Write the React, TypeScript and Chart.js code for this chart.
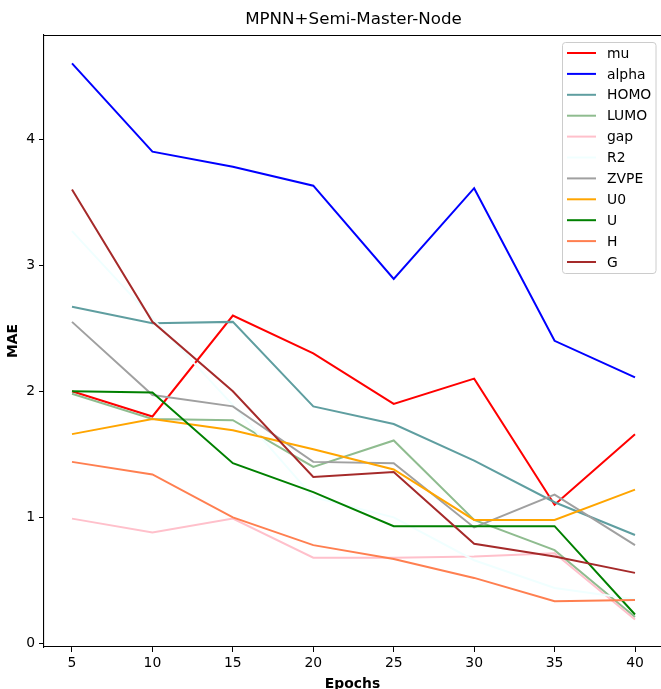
import React, { useEffect, useRef } from "react";
import { Chart, registerables } from "chart.js";

Chart.register(...registerables);

const epochs = [5, 10, 15, 20, 25, 30, 35, 40];
const seriesNames = ["mu", "alpha", "HOMO", "LUMO", "gap", "R2", "ZVPE", "U0", "U", "H", "G"];
const mu = [2.0, 1.8, 2.6, 2.3, 1.9, 2.1, 1.1, 1.66];
const alpha = [4.6, 3.9, 3.78, 3.63, 2.89, 3.61, 2.4, 2.11];
const HOMO = [2.67, 2.54, 2.55, 1.88, 1.74, 1.45, 1.12, 0.86];
const LUMO = [1.98, 1.78, 1.77, 1.4, 1.61, 0.98, 0.74, 0.21];
const gap = [0.99, 0.88, 0.99, 0.68, 0.68, 0.69, 0.715, 0.19];
const R2 = [3.27, 2.58, 1.89, 1.16, 1.0, 0.66, 0.44, 0.35];
const ZVPE = [2.55, 1.97, 1.88, 1.44, 1.43, 0.92, 1.18, 0.78];
const U0 = [1.66, 1.78, 1.69, 1.54, 1.38, 0.98, 0.98, 1.22];
const U = [2.0, 1.99, 1.43, 1.2, 0.93, 0.93, 0.93, 0.23];
const H = [1.44, 1.34, 1.0, 0.78, 0.67, 0.52, 0.335, 0.345];
const G = [3.6, 2.55, 2.0, 1.32, 1.36, 0.79, 0.69, 0.56];
const seriesValues = [mu, alpha, HOMO, LUMO, gap, R2, ZVPE, U0, U, H, G];
const seriesColors = [
  "#FF0000", "#0000FF", "#5F9EA0", "#8FBC8F", "#FFC0CB", "#F0FFFF",
  "#A0A0A0", "#FFA500", "#008000", "#FF7F50", "#A52A2A",
];
const xTicks = [5, 10, 15, 20, 25, 30, 35, 40];
const yTicks = [0, 1, 2, 3, 4];
const chartTitle = "MPNN+Semi-Master-Node";

const FONT = "'DejaVu Sans', sans-serif";

const framePlugin = {
  id: "framePlugin",
  afterDraw(chart: any) {
    const { ctx, chartArea } = chart;
    ctx.save();
    // top spine
    ctx.strokeStyle = "#000";
    ctx.lineWidth = 1.1;
    ctx.beginPath();
    ctx.moveTo(chartArea.left - 0.5, chartArea.top + 0.5);
    ctx.lineTo(chartArea.right + 2, chartArea.top + 0.5);
    ctx.stroke();
    // title
    ctx.fillStyle = "#000";
    ctx.font = `16.7px ${FONT}`;
    ctx.textAlign = "center";
    ctx.textBaseline = "middle";
    ctx.fillText(chartTitle, 353.5, 20);
    // legend
    const bx = 562.5, by = 42.5, bw = 93.5, bh = 231;
    const r = 3;
    ctx.beginPath();
    ctx.moveTo(bx + r, by);
    ctx.lineTo(bx + bw - r, by);
    ctx.arcTo(bx + bw, by, bx + bw, by + r, r);
    ctx.lineTo(bx + bw, by + bh - r);
    ctx.arcTo(bx + bw, by + bh, bx + bw - r, by + bh, r);
    ctx.lineTo(bx + r, by + bh);
    ctx.arcTo(bx, by + bh, bx, by + bh - r, r);
    ctx.lineTo(bx, by + r);
    ctx.arcTo(bx, by, bx + r, by, r);
    ctx.closePath();
    ctx.fillStyle = "rgba(255,255,255,0.8)";
    ctx.fill();
    ctx.strokeStyle = "#cccccc";
    ctx.lineWidth = 1;
    ctx.stroke();
    ctx.font = `13.9px ${FONT}`;
    ctx.textAlign = "left";
    chart.data.datasets.forEach((ds: any, i: number) => {
      const y = 53 + i * 20.9;
      ctx.strokeStyle = ds.borderColor;
      ctx.lineWidth = 2;
      ctx.beginPath();
      ctx.moveTo(567, y);
      ctx.lineTo(596, y);
      ctx.stroke();
      ctx.fillStyle = "#000";
      ctx.fillText(ds.label, 607, y + 1);
    });
    ctx.restore();
  },
};

export default function App() {
  const canvasRef = useRef<HTMLCanvasElement | null>(null);

  useEffect(() => {
    if (!canvasRef.current) return;
    const n = seriesNames.length;
    const datasets = seriesNames.map((name, i) => ({
      label: name,
      data: epochs.map((e, j) => ({ x: e, y: seriesValues[i][j] })),
      borderColor: seriesColors[i],
      backgroundColor: seriesColors[i],
      borderWidth: 2,
      pointRadius: 0,
      tension: 0,
      fill: false,
      order: n - i,
    }));
    const chart = new Chart(canvasRef.current, {
      type: "line",
      data: { datasets },
      plugins: [framePlugin],
      options: {
        animation: false,
        responsive: false,
        devicePixelRatio: 1,
        layout: { padding: { top: 35, right: 0, left: 0, bottom: 0 } },
        plugins: {
          legend: { display: false },
          title: { display: false },
          tooltip: { enabled: false },
        },
        scales: {
          x: {
            type: "linear",
            min: 3.2594,
            max: 41.616,
            afterFit: (s: any) => { s.height = 42; },
            afterBuildTicks: (s: any) => { s.ticks = xTicks.map((v) => ({ value: v })); },
            ticks: {
              color: "#000",
              font: { family: FONT, size: 13.9 },
              padding: 3,
              maxRotation: 0,
              autoSkip: false,
              callback: (v: any) => String(v),
            },
            grid: {
              display: true,
              drawOnChartArea: false,
              drawTicks: true,
              tickLength: 5,
              color: "#000",
              lineWidth: 1,
            },
            border: { display: true, color: "#000", width: 1.1 },
            title: {
              display: true,
              text: "Epochs",
              color: "#000",
              font: { family: FONT, size: 13.9, weight: "bold", lineHeight: 1 },
              padding: { top: 0, bottom: -2 },
            },
          },
          y: {
            type: "linear",
            min: -0.0278,
            max: 4.8246,
            afterFit: (s: any) => { s.width = 44; },
            afterBuildTicks: (s: any) => { s.ticks = yTicks.map((v) => ({ value: v })); },
            ticks: {
              color: "#000",
              font: { family: FONT, size: 13.9 },
              padding: 4,
              autoSkip: false,
              callback: (v: any) => String(v),
            },
            grid: {
              display: true,
              drawOnChartArea: false,
              drawTicks: true,
              tickLength: 5,
              color: "#000",
              lineWidth: 1,
            },
            border: { display: true, color: "#000", width: 1.1 },
            title: {
              display: true,
              text: "MAE",
              color: "#000",
              font: { family: FONT, size: 13.9, weight: "bold", lineHeight: 1.2 },
              padding: { top: 5, bottom: 0 },
            },
          },
        },
      },
    });
    return () => chart.destroy();
  }, []);

  return (
    <div style={{ position: "fixed", left: 0, top: 0, width: 661, height: 689, overflow: "hidden", background: "#fff" }}>
      <canvas ref={canvasRef} width={661} height={689} style={{ display: "block", width: 661, height: 689 }} />
    </div>
  );
}
